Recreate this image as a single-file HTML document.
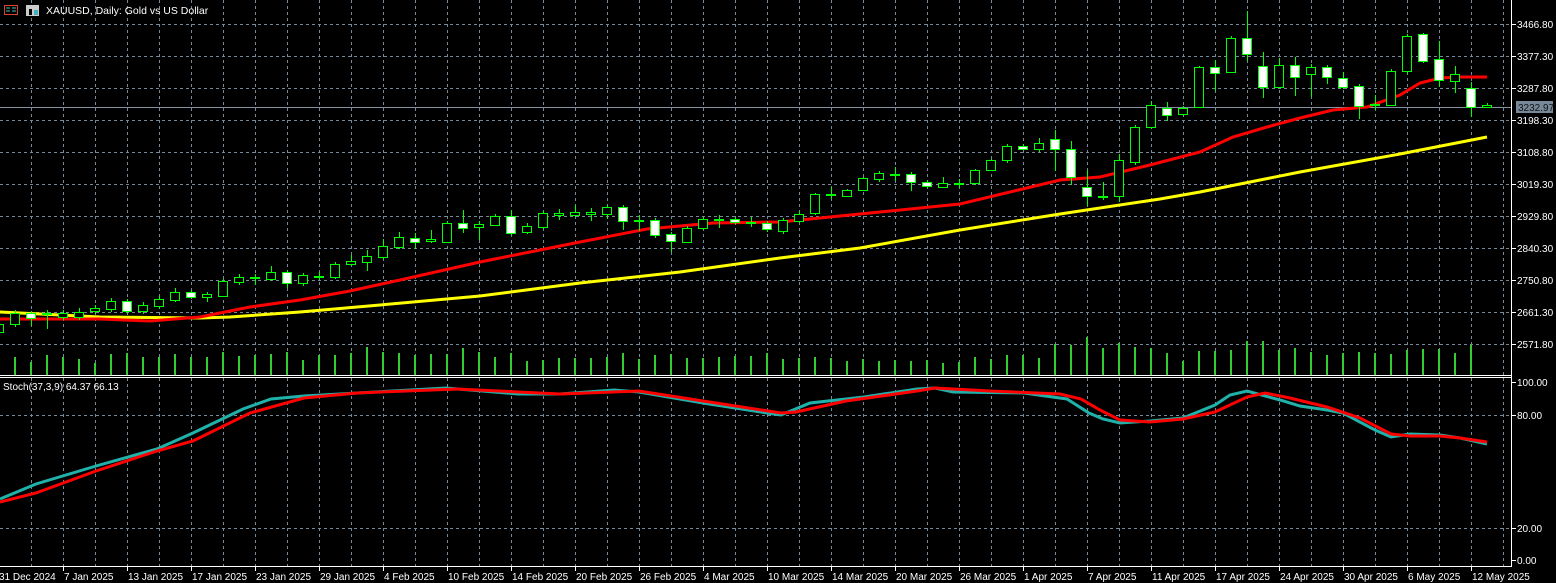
<!DOCTYPE html>
<html><head><meta charset="utf-8"><style>
html,body{margin:0;padding:0;background:#000;width:1556px;height:583px;overflow:hidden}
svg{display:block}
text{font-family:"Liberation Sans",sans-serif;font-size:10px;fill:#fff}
</style></head><body>
<svg width="1556" height="583" viewBox="0 0 1556 583" xmlns="http://www.w3.org/2000/svg">
<rect width="1556" height="583" fill="#000"/>
<g stroke="#778899" stroke-width="1" stroke-dasharray="3,3" fill="none">
<path d="M31.5 0V566M63.5 0V566M95.5 0V566M127.5 0V566M159.5 0V566M191.5 0V566M223.5 0V566M255.5 0V566M287.5 0V566M319.5 0V566M351.5 0V566M383.5 0V566M415.5 0V566M447.5 0V566M479.5 0V566M511.5 0V566M543.5 0V566M575.5 0V566M607.5 0V566M639.5 0V566M671.5 0V566M703.5 0V566M735.5 0V566M767.5 0V566M799.5 0V566M831.5 0V566M863.5 0V566M895.5 0V566M927.5 0V566M959.5 0V566M991.5 0V566M1023.5 0V566M1055.5 0V566M1087.5 0V566M1119.5 0V566M1151.5 0V566M1183.5 0V566M1215.5 0V566M1247.5 0V566M1279.5 0V566M1311.5 0V566M1343.5 0V566M1375.5 0V566M1407.5 0V566M1439.5 0V566M1471.5 0V566M1503.5 0V566"/>
<path d="M0 24.5H1511M0 56.5H1511M0 88.5H1511M0 120.5H1511M0 152.5H1511M0 184.5H1511M0 216.5H1511M0 248.5H1511M0 280.5H1511M0 312.5H1511M0 344.5H1511M0 415.5H1511M0 528.5H1511"/>
</g>
<line x1="0" y1="107.5" x2="1511" y2="107.5" stroke="#8090a0" stroke-width="1"/>
<!-- volume -->
<path stroke="#32cd32" stroke-width="2" fill="none" d="M15 375V357M31 375V362M47 375V355M63 375V357M79 375V359M95 375V363M111 375V354M127 375V353M143 375V357M159 375V357M175 375V354M191 375V357M207 375V357M223 375V352M239 375V356M255 375V355M271 375V354M287 375V352M303 375V360M319 375V355M335 375V355M351 375V353M367 375V347M383 375V352M399 375V353M415 375V355M431 375V354M447 375V354M463 375V348M479 375V352M495 375V357M511 375V353M527 375V361M543 375V360M559 375V358M575 375V358M591 375V358M607 375V357M623 375V353M639 375V359M655 375V355M671 375V354M687 375V358M703 375V358M719 375V357M735 375V356M751 375V356M767 375V353M783 375V359M799 375V358M815 375V357M831 375V358M847 375V361M863 375V359M879 375V361M895 375V360M911 375V361M927 375V360M943 375V363M959 375V362M975 375V357M991 375V359M1007 375V355M1023 375V355M1039 375V358M1055 375V344M1071 375V345M1087 375V337M1103 375V348M1119 375V343M1135 375V347M1151 375V348M1167 375V353M1183 375V361M1199 375V351M1215 375V351M1231 375V350M1247 375V341M1263 375V341M1279 375V350M1295 375V348M1311 375V352M1327 375V355M1343 375V353M1359 375V352M1375 375V353M1391 375V354M1407 375V350M1423 375V349M1439 375V349M1455 375V353M1471 375V345"/>
<!-- MAs -->
<polyline fill="none" stroke="#ffff00" stroke-width="3" points="0,312 100,317 200,318 230,317 300,312 380,305 480,296 580,283 680,272 780,258 860,248 960,230 1060,214 1160,199 1200,192 1300,172 1400,154 1487,137"/>
<polyline fill="none" stroke="#ff0000" stroke-width="3" points="0,319 100,319 150,321 200,317 250,307 300,300 350,291 400,280 480,262 580,242 647,229 713,223 780,222 860,214 960,204 1060,180 1100,177 1150,165 1200,152 1233,137 1267,127 1300,118 1333,110 1367,107 1400,95 1420,83 1440,78 1460,77 1487,77"/>
<!-- candles -->
<g stroke="#00ff00" stroke-width="1">
<path fill="none" d="M-0.5 321V336M15.5 310V327M31.5 311V326M47.5 310V329M63.5 310V320M79.5 308V320M95.5 305V314M111.5 298V312M127.5 299V314M143.5 302V314M159.5 296V309M175.5 288V302M191.5 290V299M207.5 292V302M223.5 279V297M239.5 274V285M255.5 274V285M271.5 266V281M287.5 270V288M303.5 273V286M319.5 272V280M335.5 262V279M351.5 255V266M367.5 250V271M383.5 239V260M399.5 232V249M415.5 233V249M431.5 230V243M447.5 221V243M463.5 210V233M479.5 221V240M495.5 214V226M511.5 210V235M527.5 223V234M543.5 211V229M559.5 209V220M575.5 205V217M591.5 208V221M607.5 205V219M623.5 205V230M639.5 215V231M655.5 218V238M671.5 232V252M687.5 226V243M703.5 217V230M719.5 215V228M735.5 217V224M751.5 217V227M767.5 221V232M783.5 218V234M799.5 211V223M815.5 193V215M831.5 187V199M847.5 189V197M863.5 177V191M879.5 171V182M895.5 167V181M911.5 172V191M927.5 180V188M943.5 177V188M959.5 179V188M975.5 169V185M991.5 159V171M1007.5 144V163M1023.5 144V150M1039.5 138V152M1055.5 130V171M1071.5 141V185M1087.5 170V206M1103.5 182V200M1119.5 154V202M1135.5 125V165M1151.5 101V129M1167.5 102V121M1183.5 106V116M1199.5 66V108M1215.5 60V91M1231.5 36V73M1247.5 11V61M1263.5 52V98M1279.5 58V88M1295.5 57V96M1311.5 64V97M1327.5 65V84M1343.5 72V89M1359.5 84V119M1375.5 95V110M1391.5 69V106M1407.5 34V74M1423.5 33V63M1439.5 41V87M1455.5 66V93M1471.5 82V117M1487.5 103V108"/>
<g fill="#000">
<rect x="-5.5" y="324.5" width="9" height="8"/><rect x="10.5" y="313.5" width="9" height="11"/><rect x="42.5" y="313.5" width="9" height="1"/><rect x="58.5" y="313.5" width="9" height="4"/><rect x="74.5" y="312.5" width="9" height="5"/><rect x="90.5" y="308.5" width="9" height="3"/><rect x="106.5" y="301.5" width="9" height="8"/><rect x="138.5" y="305.5" width="9" height="6"/><rect x="154.5" y="299.5" width="9" height="7"/><rect x="170.5" y="292.5" width="9" height="8"/><rect x="202.5" y="294.5" width="9" height="3"/><rect x="218.5" y="281.5" width="9" height="15"/><rect x="234.5" y="277.5" width="9" height="5"/><rect x="250.5" y="277.5" width="9" height="1"/><rect x="266.5" y="272.5" width="9" height="7"/><rect x="298.5" y="275.5" width="9" height="8"/><rect x="314.5" y="276.5" width="9" height="1"/><rect x="330.5" y="264.5" width="9" height="13"/><rect x="346.5" y="261.5" width="9" height="3"/><rect x="362.5" y="256.5" width="9" height="6"/><rect x="378.5" y="246.5" width="9" height="11"/><rect x="394.5" y="237.5" width="9" height="10"/><rect x="426.5" y="239.5" width="9" height="2"/><rect x="442.5" y="223.5" width="9" height="19"/><rect x="474.5" y="224.5" width="9" height="3"/><rect x="490.5" y="216.5" width="9" height="9"/><rect x="522.5" y="226.5" width="9" height="6"/><rect x="538.5" y="213.5" width="9" height="14"/><rect x="554.5" y="213.5" width="9" height="2"/><rect x="570.5" y="212.5" width="9" height="3"/><rect x="586.5" y="212.5" width="9" height="2"/><rect x="602.5" y="207.5" width="9" height="7"/><rect x="634.5" y="220.5" width="9" height="1"/><rect x="682.5" y="228.5" width="9" height="14"/><rect x="698.5" y="219.5" width="9" height="9"/><rect x="714.5" y="219.5" width="9" height="1"/><rect x="746.5" y="222.5" width="9" height="1"/><rect x="778.5" y="220.5" width="9" height="11"/><rect x="794.5" y="214.5" width="9" height="7"/><rect x="810.5" y="194.5" width="9" height="19"/><rect x="826.5" y="194.5" width="9" height="1"/><rect x="842.5" y="190.5" width="9" height="6"/><rect x="858.5" y="178.5" width="9" height="12"/><rect x="874.5" y="173.5" width="9" height="6"/><rect x="890.5" y="174.5" width="9" height="1"/><rect x="938.5" y="183.5" width="9" height="4"/><rect x="954.5" y="183.5" width="9" height="1"/><rect x="970.5" y="170.5" width="9" height="13"/><rect x="986.5" y="160.5" width="9" height="10"/><rect x="1002.5" y="146.5" width="9" height="14"/><rect x="1034.5" y="143.5" width="9" height="6"/><rect x="1098.5" y="196.5" width="9" height="1"/><rect x="1114.5" y="160.5" width="9" height="36"/><rect x="1130.5" y="127.5" width="9" height="35"/><rect x="1146.5" y="105.5" width="9" height="22"/><rect x="1178.5" y="108.5" width="9" height="6"/><rect x="1194.5" y="67.5" width="9" height="40"/><rect x="1226.5" y="38.5" width="9" height="34"/><rect x="1274.5" y="65.5" width="9" height="22"/><rect x="1306.5" y="67.5" width="9" height="7"/><rect x="1370.5" y="104.5" width="9" height="1"/><rect x="1386.5" y="71.5" width="9" height="34"/><rect x="1402.5" y="36.5" width="9" height="35"/><rect x="1450.5" y="74.5" width="9" height="7"/><rect x="1482.5" y="105.5" width="9" height="2"/>
</g>
<g fill="#fff">
<rect x="26.5" y="313.5" width="9" height="5"/><rect x="122.5" y="301.5" width="9" height="10"/><rect x="186.5" y="292.5" width="9" height="5"/><rect x="282.5" y="272.5" width="9" height="11"/><rect x="410.5" y="238.5" width="9" height="4"/><rect x="458.5" y="223.5" width="9" height="5"/><rect x="506.5" y="216.5" width="9" height="17"/><rect x="618.5" y="207.5" width="9" height="14"/><rect x="650.5" y="220.5" width="9" height="15"/><rect x="666.5" y="234.5" width="9" height="7"/><rect x="730.5" y="219.5" width="9" height="3"/><rect x="762.5" y="223.5" width="9" height="6"/><rect x="906.5" y="174.5" width="9" height="8"/><rect x="922.5" y="182.5" width="9" height="4"/><rect x="1018.5" y="146.5" width="9" height="3"/><rect x="1050.5" y="139.5" width="9" height="10"/><rect x="1066.5" y="149.5" width="9" height="28"/><rect x="1082.5" y="187.5" width="9" height="9"/><rect x="1162.5" y="108.5" width="9" height="7"/><rect x="1210.5" y="67.5" width="9" height="6"/><rect x="1242.5" y="38.5" width="9" height="16"/><rect x="1258.5" y="66.5" width="9" height="21"/><rect x="1290.5" y="65.5" width="9" height="12"/><rect x="1322.5" y="67.5" width="9" height="10"/><rect x="1338.5" y="78.5" width="9" height="9"/><rect x="1354.5" y="86.5" width="9" height="20"/><rect x="1418.5" y="34.5" width="9" height="27"/><rect x="1434.5" y="59.5" width="9" height="21"/><rect x="1466.5" y="88.5" width="9" height="19"/>
</g>
</g>
<!-- stoch -->
<polyline fill="none" stroke="#20b2aa" stroke-width="3" points="0,499 36,484 96,466 157,449 193,433 243,409 271,399 304,396 357,393 446,388 518,394 560,394 614,390 639,392 703,403 767,413 781,415 810,403 864,397 917,389 935,388 953,392 1024,393 1067,399 1089,413 1103,419 1120,423 1150,421 1183,418 1215,405 1230,395 1247,391 1280,400 1300,406 1327,410 1343,413 1375,430 1391,437 1410,434 1440,435 1460,438 1487,444"/>
<polyline fill="none" stroke="#ff0000" stroke-width="3" points="0,502 36,493 96,471 157,451 193,441 250,413 304,398 357,393 457,389 518,392 560,394 639,391 703,401 781,413 796,412 846,401 917,391 935,388 990,391 1060,394 1081,399 1100,410 1120,420 1150,422 1183,419 1215,412 1247,397 1265,393 1290,398 1327,407 1360,418 1391,434 1410,436 1440,436 1460,438 1487,442"/>
<!-- frame -->
<g stroke="#fff" stroke-width="1" fill="none">
<path d="M0 375.5H1512M0 377.5H1512M0 566.5H1512M1511.5 0V567"/>
<path d="M1512 24.5H1516M1512 56.5H1516M1512 88.5H1516M1512 120.5H1516M1512 152.5H1516M1512 184.5H1516M1512 216.5H1516M1512 248.5H1516M1512 280.5H1516M1512 312.5H1516M1512 344.5H1516M1512 382.5H1516M1512 415.5H1516M1512 528.5H1516M1512 560.5H1516"/>
<path d="M-0.5 567V571M63.5 567V571M127.5 567V571M191.5 567V571M255.5 567V571M319.5 567V571M383.5 567V571M447.5 567V571M511.5 567V571M575.5 567V571M639.5 567V571M703.5 567V571M767.5 567V571M831.5 567V571M895.5 567V571M959.5 567V571M1023.5 567V571M1087.5 567V571M1151.5 567V571M1215.5 567V571M1279.5 567V571M1343.5 567V571M1407.5 567V571M1471.5 567V571"/>
</g>
<rect x="1516" y="101" width="37" height="12" fill="#778899"/>
<text x="1518" y="111" style="fill:#111">3232.97</text>
<g>
<text x="1517" y="28">3466.80</text><text x="1517" y="60">3377.30</text><text x="1517" y="92">3287.80</text><text x="1517" y="124">3198.30</text><text x="1517" y="156">3108.80</text><text x="1517" y="188">3019.30</text><text x="1517" y="220">2929.80</text><text x="1517" y="252">2840.30</text><text x="1517" y="284">2750.80</text><text x="1517" y="316">2661.30</text><text x="1517" y="348">2571.80</text>
<text x="1517" y="386">100.00</text><text x="1517" y="419">80.00</text><text x="1517" y="532">20.00</text><text x="1517" y="564">0.00</text>
</g>
<g>
<text x="-1" y="580">31 Dec 2024</text><text x="64" y="580">7 Jan 2025</text><text x="128" y="580">13 Jan 2025</text><text x="192" y="580">17 Jan 2025</text><text x="256" y="580">23 Jan 2025</text><text x="320" y="580">29 Jan 2025</text><text x="384" y="580">4 Feb 2025</text><text x="448" y="580">10 Feb 2025</text><text x="512" y="580">14 Feb 2025</text><text x="576" y="580">20 Feb 2025</text><text x="640" y="580">26 Feb 2025</text><text x="704" y="580">4 Mar 2025</text><text x="768" y="580">10 Mar 2025</text><text x="832" y="580">14 Mar 2025</text><text x="896" y="580">20 Mar 2025</text><text x="960" y="580">26 Mar 2025</text><text x="1024" y="580">1 Apr 2025</text><text x="1088" y="580">7 Apr 2025</text><text x="1152" y="580">11 Apr 2025</text><text x="1216" y="580">17 Apr 2025</text><text x="1280" y="580">24 Apr 2025</text><text x="1344" y="580">30 Apr 2025</text><text x="1408" y="580">6 May 2025</text><text x="1472" y="580">12 May 2025</text>
</g>
<!-- title -->
<rect x="4.5" y="5.5" width="13" height="9" fill="none" stroke="#e04030"/>
<path d="M6 8H10M6 11H10M12 8H16M12 11H16" stroke="#40c0b0" stroke-width="1"/>
<rect x="26" y="5" width="13" height="11" fill="#ccc"/>
<rect x="29" y="9" width="3" height="6" fill="#000"/><rect x="34" y="10" width="4" height="5" fill="#40b0c0"/>
<text x="46" y="14" style="font-size:10.5px">XAUUSD, Daily:  Gold vs US Dollar</text>
<text x="3" y="390">Stoch(37,3,9) 64.37 66.13</text>
</svg>
</body></html>
